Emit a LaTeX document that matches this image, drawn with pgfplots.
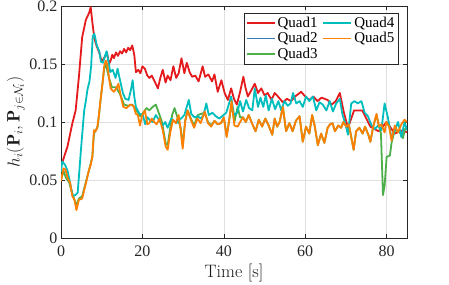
\documentclass[border=0pt]{standalone}
\usepackage{fontspec}
\newfontfamily\timesfont{Liberation Serif}
\usepackage{amsmath}
\usepackage{pgfplots}
\pgfplotsset{compat=1.18}
\definecolor{cred}{RGB}{228,26,28}
\definecolor{cblue}{RGB}{55,126,184}
\definecolor{cgreen}{RGB}{77,175,74}
\definecolor{ccyan}{RGB}{0,190,190}
\definecolor{corange}{RGB}{255,127,0}
\definecolor{axgray}{RGB}{38,38,38}
\begin{document}
\begin{tikzpicture}
\useasboundingbox (-61bp,-47bp) rectangle (388bp,238bp);
\begin{axis}[
  at={(0,0)}, anchor=south west,
  scale only axis, width=346bp, height=232bp,
  xmin=0, xmax=85, ymin=0, ymax=0.2,
  xtick={0,20,40,60,80}, ytick={0,0.05,0.1,0.15,0.2},
  yticklabel style={/pgf/number format/fixed, /pgf/number format/precision=2},
  xticklabel style={yshift=-4bp},
  /pgf/number format/assume math mode=true,
  ticklabel style={font=\timesfont\fontsize{16bp}{19bp}\selectfont, text=axgray},
  grid=major, major grid style={gray!25, line width=0.5bp},
  axis line style={axgray, line width=0.6bp},
  tick style={axgray, line width=0.6bp},
  major tick length=4bp,
  tick align=inside,
  xlabel={Time [s]},
  ylabel={$h_i(\mathbf{P}_i, \mathbf{P}_{j\in\mathcal{N}_i})$},
  label style={font=\fontsize{18bp}{21bp}\selectfont, text=black!90},
  xlabel style={yshift=-1bp},
  ylabel style={yshift=-2bp},
  legend columns=3,
  legend transposed=true,
  legend cell align=left,
  legend style={at={(rel axis cs:0.974,0.97)}, anchor=north east,
    draw=axgray, fill=white,
    font=\timesfont\fontsize{15bp}{17bp}\selectfont,
    inner sep=1.5bp,
    /tikz/every even column/.append style={column sep=3bp}},
  legend image code/.code={\draw[#1, line width=1.8bp] (0bp,0bp) -- (28bp,0bp);},
]
% Quad1
\addplot[cred, line width=1.8bp, line join=round] coordinates {
(0,0.062)(0.3,0.065)(1.6,0.079)(2.8,0.099)(3.6,0.110)(4.4,0.139)(5.2,0.173)(6.1,0.188)(6.9,0.194)(7.3,0.199)
(7.7,0.186)(8.2,0.172)(8.8,0.165)(9.4,0.160)(10,0.152)(10.9,0.157)(11.3,0.160)(11.8,0.150)(12.2,0.153)(12.6,0.158)
(13.0,0.155)(13.5,0.160)(14.0,0.157)(14.5,0.161)(15.0,0.159)(15.5,0.163)(16.0,0.160)(16.5,0.164)(17.0,0.162)(17.5,0.166)
(18.0,0.158)(18.4,0.143)(19.0,0.145)(19.5,0.142)(20.0,0.148)(20.6,0.146)(21.2,0.140)(21.7,0.138)(22.3,0.140)(23.0,0.135)
(23.8,0.129)(24.4,0.138)(25.0,0.145)(25.7,0.134)(26.2,0.140)(26.9,0.136)(27.6,0.148)(28.3,0.138)(28.9,0.142)(29.6,0.155)
(30.3,0.142)(30.9,0.151)(31.6,0.143)(32.2,0.139)(33.0,0.140)(33.8,0.135)(34.8,0.148)(35.4,0.139)(36.2,0.141)(37.1,0.135)
(37.7,0.141)(38.5,0.126)(39.4,0.136)(40.2,0.125)(41.0,0.119)(41.8,0.129)(42.5,0.120)(43.2,0.115)(44.0,0.126)(44.8,0.139)
(45.3,0.130)(45.9,0.122)(46.7,0.127)(47.6,0.133)(48.4,0.125)(49.2,0.129)(50.0,0.123)(50.8,0.125)(51.7,0.119)(52.5,0.125)
(53.3,0.122)(54.5,0.117)(55.5,0.120)(56.5,0.118)(57.5,0.122)(59.0,0.126)(60.0,0.122)(61.0,0.119)(62.0,0.122)(63.0,0.118)
(64.0,0.121)(65.5,0.119)(66.5,0.115)(67.5,0.118)(68.5,0.125)(69.5,0.108)(70.5,0.095)(72,0.110)(74,0.110)(76,0.096)
(78,0.092)(80,0.100)(82,0.090)(84,0.093)(85,0.091)};
\addlegendentry{Quad1}
\addlegendimage{cblue, line width=1.8bp}
\addlegendentry{Quad2}
% Quad3
\addplot[cgreen, line width=1.8bp, line join=round] coordinates {
(0,0.05)(0.6,0.058)(1.2,0.052)(2.0,0.048)(2.8,0.038)(3.8,0.028)(4.4,0.034)(5.2,0.036)(6.1,0.048)(7.0,0.060)
(7.7,0.070)(8.1,0.090)(9.0,0.096)(9.7,0.118)(10.6,0.146)(11.0,0.150)(11.8,0.138)(12.5,0.130)(13.5,0.130)(14.5,0.124)
(15.5,0.115)(16.5,0.114)(17.5,0.115)(18.5,0.110)(19.5,0.105)(20.2,0.108)(21.0,0.112)(21.7,0.110)(22.5,0.113)(23.3,0.115)
(24.0,0.108)(24.8,0.100)(25.7,0.082)(26.2,0.080)(26.8,0.094)(27.3,0.106)(27.9,0.112)(28.6,0.104)(29.4,0.095)(29.9,0.080)
(30.5,0.101)(31.1,0.110)(31.9,0.103)(32.7,0.097)(33.6,0.106)(34.4,0.107)(35.3,0.108)(36.1,0.100)(36.9,0.097)(37.7,0.101)
(38.5,0.098)(39.3,0.099)(40.0,0.104)(40.7,0.088)(41.3,0.101)(41.9,0.116)(42.6,0.100)(43.4,0.113)(44.0,0.104)(44.7,0.104)
(45.4,0.100)(46.1,0.106)(46.9,0.099)(47.8,0.092)(48.6,0.102)(49.4,0.096)(50.2,0.103)
(51.0,0.097)(51.9,0.089)(52.5,0.103)(53.1,0.096)(53.7,0.100)(54.5,0.113)(55.3,0.092)(56.1,0.099)(56.9,0.092)(57.7,0.101)
(58.6,0.105)(59.4,0.083)(60.2,0.096)(61.0,0.090)(61.7,0.106)(62.3,0.097)(63.1,0.080)(63.9,0.090)(64.7,0.082)(65.5,0.095)
(66.1,0.098)(66.7,0.099)(67.3,0.092)(68.1,0.097)(68.8,0.095)(69.4,0.100)(70.1,0.096)(70.7,0.098)(71.3,0.087)(71.9,0.076)
(72.5,0.092)(73.3,0.095)(74.1,0.090)(74.7,0.096)(75.5,0.089)(76.0,0.083)(76.7,0.096)(77.5,0.106)(78.1,0.097)(78.6,0.090)
(79.1,0.037)(79.5,0.045)(80.0,0.070)(80.8,0.071)(81.2,0.082)(82.0,0.093)(82.8,0.092)(83.5,0.090)(84.0,0.086)(84.5,0.094)(85.0,0.095)};
\addlegendentry{Quad3}
% Quad4
\addplot[ccyan, line width=1.8bp, line join=round] coordinates {
(0,0.057)(0.3,0.066)(1.0,0.063)(1.6,0.058)(2.2,0.048)(2.9,0.036)(3.5,0.037)(4.1,0.039)(4.9,0.076)(5.7,0.110)
(6.1,0.118)(6.5,0.128)(7.0,0.135)(7.4,0.148)(7.8,0.174)(8.2,0.176)(8.8,0.166)(9.4,0.161)(9.8,0.152)(10.3,0.151)
(10.9,0.158)(11.2,0.161)(11.7,0.151)(12.1,0.143)(12.7,0.145)(13.4,0.138)(13.9,0.146)(14.5,0.136)(15.2,0.125)(15.8,0.120)
(16.6,0.119)(17.2,0.128)(17.6,0.136)(18.0,0.122)(18.4,0.113)(19.3,0.107)(20.1,0.106)(20.7,0.098)(21.3,0.104)(21.7,0.102)
(22.5,0.100)(23.3,0.106)(24.2,0.101)(25.0,0.097)(25.6,0.100)(26.2,0.095)(27.1,0.103)(27.7,0.101)(28.4,0.099)(29.0,0.102)
(29.5,0.103)(30.3,0.106)(31.4,0.119)(32.0,0.107)(32.8,0.104)(33.6,0.105)(34.4,0.103)(35.0,0.106)(35.7,0.116)(36.3,0.106)
(37.2,0.108)(38.0,0.105)(38.9,0.103)(39.6,0.105)(40.6,0.108)(41.8,0.122)(42.5,0.106)(43.3,0.108)(44.0,0.118)(44.7,0.109)
(45.5,0.119)(46.2,0.112)(47.0,0.110)(47.6,0.129)(48.4,0.113)(49.0,0.121)(49.7,0.113)(50.3,0.123)(51.0,0.110)(51.8,0.120)
(52.6,0.111)(53.4,0.118)(54.1,0.110)(54.9,0.118)(55.7,0.114)(56.4,0.116)(57.0,0.125)(57.8,0.116)(58.6,0.118)(59.4,0.113)
(60.2,0.122)(61.0,0.118)(61.9,0.122)(62.7,0.110)(63.5,0.117)(64.3,0.115)(65.2,0.110)(66.0,0.118)(66.8,0.109)(67.6,0.116)
(68.5,0.120)(69.1,0.107)(69.7,0.100)(70.1,0.095)(70.5,0.089)(71.3,0.116)(72.1,0.118)(72.9,0.116)(73.8,0.118)(74.6,0.108)
(75.4,0.105)(76.3,0.097)(77.1,0.094)(77.9,0.097)(78.7,0.093)(79.5,0.116)(80.3,0.104)(81.2,0.086)(82.0,0.093)(82.8,0.100)
(83.6,0.087)(84.4,0.100)(85.0,0.093)};
\addlegendentry{Quad4}
% Quad5
\addplot[corange, line width=1.8bp, line join=round] coordinates {
(0,0.049)(0.6,0.060)(1.1,0.059)(1.7,0.051)(2.2,0.048)(2.8,0.036)(3.3,0.033)(3.8,0.024)(4.4,0.033)(5.2,0.034)
(6.1,0.047)(6.9,0.059)(7.3,0.063)(7.7,0.070)(8.1,0.093)(8.5,0.092)(8.9,0.095)(9.3,0.105)(9.7,0.119)(10.2,0.133)
(10.6,0.148)(11.0,0.153)(11.4,0.149)(11.8,0.138)(12.2,0.129)(13.0,0.126)(13.6,0.129)(14.1,0.133)(14.7,0.122)(15.3,0.113)
(16.1,0.112)(17.0,0.115)(17.8,0.114)(18.4,0.107)(18.9,0.106)(19.4,0.097)(19.9,0.105)(20.6,0.110)(21.2,0.098)(21.7,0.099)
(22.3,0.103)(22.9,0.100)(23.5,0.098)(24.2,0.103)(25.0,0.093)(25.7,0.079)(26.2,0.076)(26.8,0.090)(27.5,0.102)(28.2,0.099)
(28.9,0.106)(29.4,0.093)(29.9,0.077)(30.5,0.100)(31.1,0.110)(31.9,0.102)(32.7,0.095)(33.5,0.103)(34.3,0.099)(35.3,0.109)
(36.1,0.099)(36.9,0.096)(37.7,0.101)(38.5,0.098)(39.3,0.099)(40.0,0.104)(40.7,0.087)(41.3,0.101)(41.9,0.118)(42.6,0.097)
(43.4,0.096)(44.0,0.100)(44.7,0.104)(45.4,0.100)(46.1,0.106)(46.9,0.099)(47.8,0.092)(48.6,0.102)(49.4,0.096)(50.2,0.103)
(51.0,0.097)(51.9,0.089)(52.5,0.103)(53.1,0.096)(53.7,0.100)(54.5,0.113)(55.3,0.092)(56.1,0.099)(56.9,0.092)(57.7,0.101)
(58.6,0.105)(59.4,0.083)(60.2,0.096)(61.0,0.090)(61.7,0.106)(62.3,0.097)(63.1,0.080)(63.9,0.090)(64.7,0.082)(65.5,0.095)
(66.1,0.098)(66.7,0.099)(67.3,0.092)(68.1,0.097)(68.8,0.095)(69.4,0.100)(70.1,0.096)(70.7,0.098)(71.3,0.087)(71.9,0.076)
(72.5,0.092)(73.3,0.095)(74.1,0.090)(74.7,0.096)(75.5,0.089)(76.0,0.083)(76.7,0.096)(77.5,0.107)(78.1,0.096)(78.7,0.098)
(79.5,0.091)(79.9,0.100)(80.6,0.096)(81.2,0.084)(82.0,0.097)(82.8,0.091)(83.6,0.098)(84.4,0.102)(85.0,0.100)};
\addlegendentry{Quad5}
\addlegendimage{empty legend}
\addlegendentry{}
\end{axis}
\end{tikzpicture}
\end{document}
